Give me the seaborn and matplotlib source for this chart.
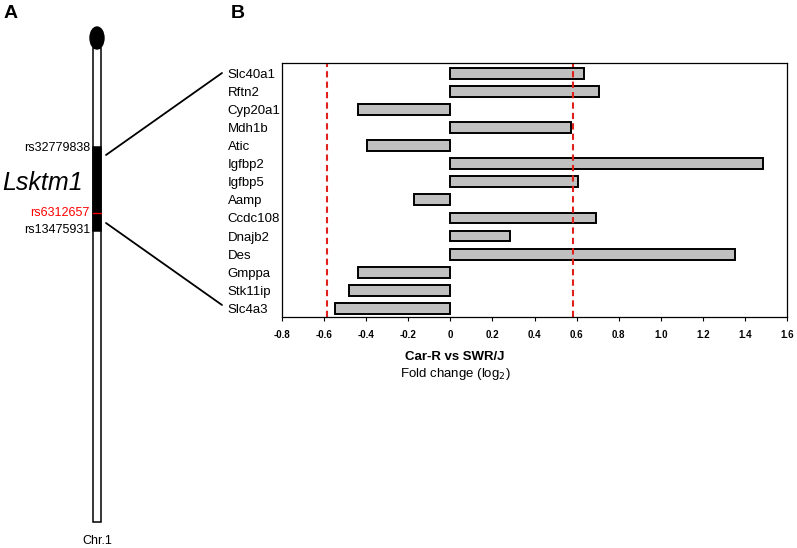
import numpy as np
import matplotlib.pyplot as plt
import seaborn as sns
from matplotlib.patches import Rectangle, Ellipse

genes = ['Slc40a1', 'Rftn2', 'Cyp20a1', 'Mdh1b', 'Atic', 'Igfbp2', 'Igfbp5',
         'Aamp', 'Ccdc108', 'Dnajb2', 'Des', 'Gmppa', 'Stk11ip', 'Slc4a3']
fold_change = [0.635, 0.707, -0.437, 0.572, -0.394, 1.488, 0.605,
               -0.172, 0.691, 0.284, 1.355, -0.437, -0.481, -0.548]
cutoff = np.log2(1.5)
xticks = [-0.8, -0.6, -0.4, -0.2, 0, 0.2, 0.4, 0.6, 0.8, 1.0, 1.2, 1.4, 1.6]
xtick_labels = ['-0.8', '-0.6', '-0.4', '-0.2', '0', '0.2', '0.4', '0.6',
                '0.8', '1.0', '1.2', '1.4', '1.6']
snps = ['rs32779838', 'rs6312657', 'rs13475931']
snp_colors = ['black', 'red', 'black']

sns.set_style('white')
plt.rcParams['font.family'] = ['Liberation Sans', 'DejaVu Sans']
plt.rcParams['text.color'] = 'black'
plt.rcParams['xtick.color'] = 'black'
plt.rcParams['ytick.color'] = 'black'

W, H = 797, 548
fig = plt.figure(figsize=(W / 100, H / 100), dpi=100)

# panel B: bar chart
ax = fig.add_axes([282 / W, 1 - 317 / H, 505 / W, 254 / H])
sns.barplot(x=fold_change, y=genes, orient='h', color='#c0c0c0',
            edgecolor='black', linewidth=1.4, width=0.6, ax=ax)
for v in (-cutoff, cutoff):
    ax.axvline(v, color='#e0201b', ls=(0, (3, 2)), lw=1.5)
ax.set_xlim(-0.8, 1.6)
ax.set_ylim(13.48, -0.57)
ax.set_xticks(xticks)
ax.set_xticklabels(xtick_labels, fontsize=7, fontweight='bold')
ax.tick_params(axis='x', direction='out', length=3, width=0.8, bottom=True, pad=6)
ax.tick_params(axis='y', length=0, labelsize=9.5, pad=39)
for lab in ax.get_yticklabels():
    lab.set_horizontalalignment('left')
for s in ax.spines.values():
    s.set_linewidth(0.9)
    s.set_color('black')
ax.set_xlabel('')
ax.set_ylabel('')

fig.text(455 / W, 1 - 357 / H, 'Car-R vs SWR/J', ha='center', va='center',
         fontsize=9.5, fontweight='bold')
fig.text(455 / W, 1 - 374 / H, 'Fold change (log$_2$)', ha='center', va='center',
         fontsize=9.5)

# panel A: chromosome schematic in pixel space
ov = fig.add_axes([0, 0, 1, 1])
ov.set_xlim(0, W)
ov.set_ylim(H, 0)
ov.axis('off')
ov.add_patch(Rectangle((93, 48), 8, 474, facecolor='white', edgecolor='black', lw=1.1))
ov.add_patch(Rectangle((93, 147), 8, 84, facecolor='black', edgecolor='black', lw=1.1))
ov.add_patch(Ellipse((97, 38), 14, 22, facecolor='black', edgecolor='black'))
ov.plot([93, 101], [213, 213], color='red', lw=1)
ov.plot([106, 222], [155, 73], color='black', lw=1.3)
ov.plot([106, 222], [223, 305], color='black', lw=1.3)
for name, col, y in zip(snps, snp_colors, [148, 213, 230]):
    ov.text(90, y, name, color=col, ha='right', va='center', fontsize=9)
ov.text(2, 183, 'Lsktm1', style='italic', ha='left', va='center', fontsize=18)
ov.text(97, 541, 'Chr.1', ha='center', va='center', fontsize=9)
ov.text(4, 13, 'A', ha='left', va='center', fontsize=14, fontweight='bold')
ov.text(231, 13, 'B', ha='left', va='center', fontsize=14, fontweight='bold')

fig.savefig('out.png', dpi=100)
